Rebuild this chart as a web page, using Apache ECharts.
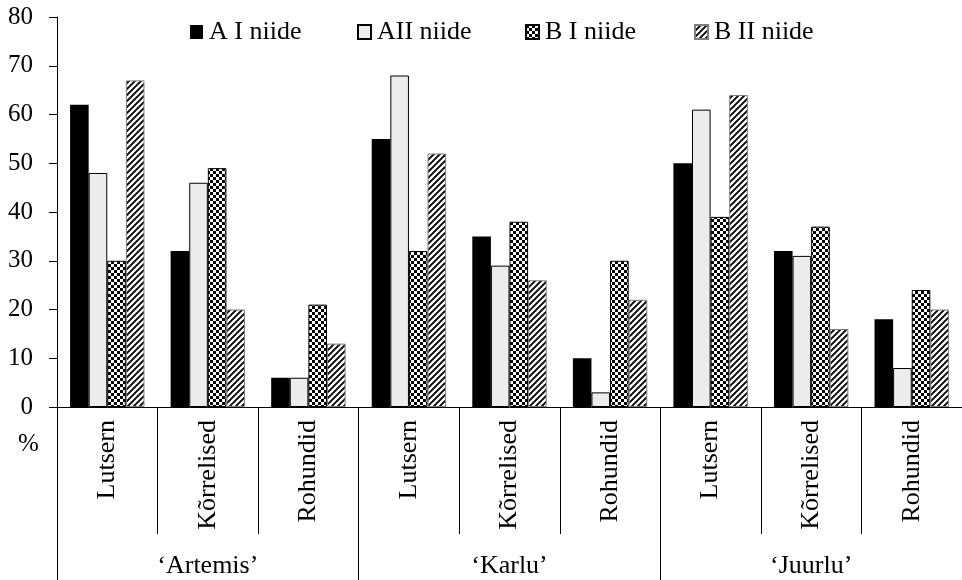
<!DOCTYPE html>
<html>
<head>
<meta charset="utf-8">
<style>
  html, body { margin: 0; padding: 0; background: #fff; }
  #chart { width: 962px; height: 580px; }
</style>
<script src="https://cdn.jsdelivr.net/npm/echarts@6/dist/echarts.min.js"></script>
</head>
<body>
<div id="chart"></div>
<script>
// Plant groups within each cultivar, and the cultivars themselves
const groups = ['Lutsern', 'Kõrrelised', 'Rohundid'];
const cultivars = ['‘Artemis’', '‘Karlu’', '‘Juurlu’'];
const seriesNames = ['A I niide', 'AII niide', 'B I niide', 'B II niide'];

// Share (%) per cut, in order Artemis (3 groups), Karlu (3), Juurlu (3)
const aFirstCut  = [62, 32, 6, 55, 35, 10, 50, 32, 18];
const aSecondCut = [48, 46, 6, 68, 29, 3, 61, 31, 8];
const bFirstCut  = [30, 49, 21, 32, 38, 30, 39, 37, 24];
const bSecondCut = [67, 20, 13, 52, 26, 22, 64, 16, 20];

const yTicks = { min: 0, max: 80, step: 10 };

const FONT = "'Liberation Serif', 'Times New Roman', serif";

// Build tiled fill patterns
function checkerPattern() {
  const c = document.createElement('canvas');
  c.width = 6; c.height = 6;
  const g = c.getContext('2d');
  g.fillStyle = '#fff'; g.fillRect(0, 0, 6, 6);
  g.fillStyle = '#000';
  g.fillRect(0, 0, 3, 3);
  g.fillRect(3, 3, 3, 3);
  return { image: c, repeat: 'repeat' };
}
function hatchPattern() {
  const s = 6;
  const c = document.createElement('canvas');
  c.width = s; c.height = s;
  const g = c.getContext('2d');
  g.fillStyle = '#fff'; g.fillRect(0, 0, s, s);
  g.strokeStyle = '#000';
  g.lineWidth = 1.9;
  g.beginPath();
  g.moveTo(-1, s + 1); g.lineTo(s + 1, -1);
  g.moveTo(-1, 1); g.lineTo(1, -1);
  g.moveTo(s - 1, s + 1); g.lineTo(s + 1, s - 1);
  g.stroke();
  return { image: c, repeat: 'repeat' };
}

const categories = [];
cultivars.forEach(() => groups.forEach(g => categories.push(g)));

const styles = [
  { color: '#000', borderColor: '#000', borderWidth: 0 },
  { color: '#ececec', borderColor: '#000', borderWidth: 1 },
  { color: checkerPattern(), borderColor: '#000', borderWidth: 1 },
  { color: hatchPattern(), borderColor: '#7f7f7f', borderWidth: 1 }
];
const values = [aFirstCut, aSecondCut, bFirstCut, bSecondCut];
const legendLefts = [190, 357, 525, 694];

const chart = echarts.init(document.getElementById('chart'), null, { renderer: 'canvas' });

chart.setOption({
  animation: false,
  backgroundColor: '#fff',
  textStyle: { fontFamily: FONT, color: '#000' },
  grid: { left: 57, right: 0, top: 17, height: 390, containLabel: false },
  legend: seriesNames.map((n, i) => ({
    data: [n],
    left: legendLefts[i],
    top: 19,
    padding: 0,
    icon: 'rect',
    itemWidth: 13,
    itemHeight: 14,
    itemGap: 0,
    textStyle: { fontFamily: FONT, fontSize: 26, color: '#000', padding: [0, 0, 0, 1] },
    selectedMode: false
  })),
  xAxis: [
    {
      type: 'category',
      data: categories,
      position: 'bottom',
      axisLine: { show: true, lineStyle: { color: '#000', width: 1 } },
      axisTick: { show: true, interval: 0, length: 127, lineStyle: { color: '#000', width: 1 } },
      axisLabel: {
        interval: 0, rotate: 90, margin: 13,
        fontFamily: FONT, fontSize: 26, color: '#000'
      },
      splitLine: { show: false }
    },
    {
      type: 'category',
      data: cultivars,
      position: 'bottom',
      axisLine: { show: false },
      axisTick: { show: true, interval: 0, length: 185, lineStyle: { color: '#000', width: 1 } },
      axisLabel: {
        interval: 0, margin: 146,
        fontFamily: FONT, fontSize: 26, color: '#000'
      },
      splitLine: { show: false }
    }
  ],
  yAxis: {
    type: 'value',
    min: yTicks.min, max: yTicks.max, interval: yTicks.step,
    axisLine: { show: true, lineStyle: { color: '#000', width: 1 } },
    axisTick: { show: true, length: 8, lineStyle: { color: '#000', width: 1 } },
    axisLabel: { margin: 24, fontFamily: FONT, fontSize: 25, color: '#000' },
    splitLine: { show: false }
  },
  graphic: [
    {
      type: 'text', left: 18, top: 432,
      style: { text: '%', font: '25px ' + FONT, fill: '#000' }
    }
  ],
  series: seriesNames.map((n, i) => ({
    name: n,
    type: 'bar',
    xAxisIndex: 0,
    data: values[i],
    barGap: '0%',
    barCategoryGap: '26%',
    itemStyle: styles[i],
    emphasis: { disabled: true }
  }))
});
</script>
</body>
</html>
